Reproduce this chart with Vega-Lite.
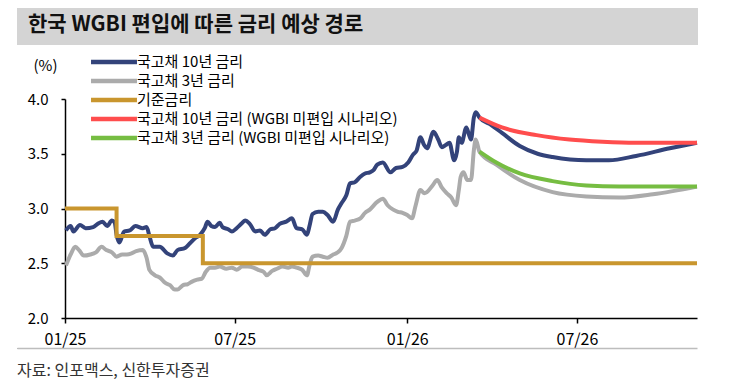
{
  "$schema": "https://vega.github.io/schema/vega-lite/v6.json",
  "background": "white",
  "padding": {"left": 17, "top": 8, "right": 0, "bottom": 20},
  "config": {
    "font": "Noto Sans CJK KR",
    "view": {"stroke": null},
    "legend": {
      "orient": "none", "legendX": 89, "legendY": -45, "title": null,
      "symbolType": "M-4,0L4,0", "symbolStrokeWidth": 4.5, "symbolSize": 132,
      "labelFontSize": 15, "labelFont": "Noto Sans CJK KR", "labelColor": "#000",
      "labelOffset": 15, "rowPadding": 1, "labelLimit": 500, "padding": 0
    }
  },
  "datasets": {
    "y10": [
      {"d":"2025-01-02","v":2.80},{"d":"2025-01-07","v":2.84},{"d":"2025-01-10","v":2.79},{"d":"2025-01-17","v":2.85},
      {"d":"2025-01-23","v":2.82},{"d":"2025-01-31","v":2.83},{"d":"2025-02-05","v":2.86},{"d":"2025-02-10","v":2.88},
      {"d":"2025-02-15","v":2.84},{"d":"2025-02-20","v":2.89},{"d":"2025-02-23","v":2.87},{"d":"2025-02-25","v":2.76},
      {"d":"2025-02-28","v":2.69},{"d":"2025-03-05","v":2.79},{"d":"2025-03-11","v":2.80},{"d":"2025-03-17","v":2.84},
      {"d":"2025-03-25","v":2.82},{"d":"2025-03-29","v":2.83},{"d":"2025-04-01","v":2.75},{"d":"2025-04-05","v":2.65},
      {"d":"2025-04-12","v":2.65},{"d":"2025-04-20","v":2.59},{"d":"2025-04-26","v":2.57},{"d":"2025-05-01","v":2.62},
      {"d":"2025-05-09","v":2.64},{"d":"2025-05-14","v":2.68},{"d":"2025-05-20","v":2.73},{"d":"2025-05-25","v":2.76},
      {"d":"2025-05-30","v":2.82},{"d":"2025-06-02","v":2.88},{"d":"2025-06-06","v":2.84},{"d":"2025-06-10","v":2.83},
      {"d":"2025-06-15","v":2.87},{"d":"2025-06-18","v":2.83},{"d":"2025-06-24","v":2.81},{"d":"2025-06-28","v":2.79},
      {"d":"2025-07-03","v":2.82},{"d":"2025-07-08","v":2.86},{"d":"2025-07-12","v":2.89},{"d":"2025-07-17","v":2.86},
      {"d":"2025-07-23","v":2.79},{"d":"2025-07-28","v":2.80},{"d":"2025-08-02","v":2.76},{"d":"2025-08-08","v":2.81},
      {"d":"2025-08-13","v":2.82},{"d":"2025-08-18","v":2.86},{"d":"2025-08-25","v":2.88},{"d":"2025-08-31","v":2.91},
      {"d":"2025-09-05","v":2.82},{"d":"2025-09-11","v":2.81},{"d":"2025-09-16","v":2.76},{"d":"2025-09-19","v":2.85},
      {"d":"2025-09-22","v":2.95},{"d":"2025-09-28","v":2.97},{"d":"2025-10-03","v":2.97},{"d":"2025-10-08","v":2.94},
      {"d":"2025-10-14","v":2.88},{"d":"2025-10-19","v":2.99},{"d":"2025-10-23","v":3.05},{"d":"2025-10-28","v":3.12},
      {"d":"2025-11-01","v":3.23},{"d":"2025-11-06","v":3.24},{"d":"2025-11-12","v":3.29},{"d":"2025-11-17","v":3.32},
      {"d":"2025-11-22","v":3.33},{"d":"2025-11-26","v":3.35},{"d":"2025-11-30","v":3.40},{"d":"2025-12-06","v":3.42},
      {"d":"2025-12-14","v":3.33},{"d":"2025-12-20","v":3.37},{"d":"2025-12-27","v":3.38},{"d":"2026-01-02","v":3.42},
      {"d":"2026-01-07","v":3.49},{"d":"2026-01-11","v":3.53},{"d":"2026-01-15","v":3.65},{"d":"2026-01-19","v":3.58},
      {"d":"2026-01-22","v":3.55},{"d":"2026-01-29","v":3.70},{"d":"2026-02-03","v":3.63},{"d":"2026-02-07","v":3.56},
      {"d":"2026-02-11","v":3.58},{"d":"2026-02-15","v":3.60},{"d":"2026-02-20","v":3.44},{"d":"2026-02-23","v":3.52},
      {"d":"2026-02-25","v":3.65},{"d":"2026-02-28","v":3.60},{"d":"2026-03-05","v":3.74},{"d":"2026-03-08","v":3.67},
      {"d":"2026-03-10","v":3.63},{"d":"2026-03-13","v":3.83},{"d":"2026-03-15","v":3.88},{"d":"2026-03-19","v":3.83},
      {"d":"2026-04-01","v":3.76},{"d":"2026-04-12","v":3.69},{"d":"2026-05-01","v":3.57},{"d":"2026-05-20","v":3.50},
      {"d":"2026-06-05","v":3.47},{"d":"2026-07-11","v":3.44},{"d":"2026-08-04","v":3.44},{"d":"2026-09-02","v":3.48},
      {"d":"2026-10-08","v":3.55},{"d":"2026-11-06","v":3.60}
    ],
    "y3": [
      {"d":"2025-01-02","v":2.48},{"d":"2025-01-07","v":2.58},{"d":"2025-01-12","v":2.65},{"d":"2025-01-16","v":2.62},
      {"d":"2025-01-21","v":2.57},{"d":"2025-01-28","v":2.58},{"d":"2025-02-03","v":2.60},{"d":"2025-02-09","v":2.65},
      {"d":"2025-02-14","v":2.62},{"d":"2025-02-20","v":2.60},{"d":"2025-02-25","v":2.56},{"d":"2025-03-03","v":2.58},
      {"d":"2025-03-08","v":2.58},{"d":"2025-03-13","v":2.59},{"d":"2025-03-18","v":2.61},{"d":"2025-03-25","v":2.62},
      {"d":"2025-03-29","v":2.55},{"d":"2025-04-01","v":2.44},{"d":"2025-04-07","v":2.39},{"d":"2025-04-12","v":2.37},
      {"d":"2025-04-18","v":2.32},{"d":"2025-04-23","v":2.30},{"d":"2025-04-28","v":2.26},{"d":"2025-05-01","v":2.26},
      {"d":"2025-05-07","v":2.30},{"d":"2025-05-12","v":2.31},{"d":"2025-05-16","v":2.33},{"d":"2025-05-22","v":2.35},
      {"d":"2025-05-27","v":2.36},{"d":"2025-05-31","v":2.42},{"d":"2025-06-05","v":2.46},{"d":"2025-06-10","v":2.46},
      {"d":"2025-06-15","v":2.47},{"d":"2025-06-22","v":2.45},{"d":"2025-06-28","v":2.46},{"d":"2025-07-03","v":2.44},
      {"d":"2025-07-09","v":2.47},{"d":"2025-07-15","v":2.47},{"d":"2025-07-21","v":2.46},{"d":"2025-07-26","v":2.44},
      {"d":"2025-08-01","v":2.42},{"d":"2025-08-04","v":2.39},{"d":"2025-08-10","v":2.43},{"d":"2025-08-15","v":2.45},
      {"d":"2025-08-21","v":2.47},{"d":"2025-08-27","v":2.46},{"d":"2025-08-31","v":2.47},{"d":"2025-09-05","v":2.46},
      {"d":"2025-09-11","v":2.44},{"d":"2025-09-16","v":2.39},{"d":"2025-09-19","v":2.49},{"d":"2025-09-22","v":2.56},
      {"d":"2025-09-28","v":2.57},{"d":"2025-10-03","v":2.56},{"d":"2025-10-08","v":2.55},{"d":"2025-10-14","v":2.58},
      {"d":"2025-10-19","v":2.60},{"d":"2025-10-23","v":2.64},{"d":"2025-10-28","v":2.75},{"d":"2025-11-01","v":2.88},
      {"d":"2025-11-06","v":2.89},{"d":"2025-11-12","v":2.91},{"d":"2025-11-17","v":2.96},{"d":"2025-11-22","v":2.99},
      {"d":"2025-11-30","v":3.06},{"d":"2025-12-06","v":3.09},{"d":"2025-12-11","v":3.03},{"d":"2025-12-17","v":2.99},
      {"d":"2025-12-22","v":2.97},{"d":"2025-12-27","v":2.96},{"d":"2026-01-01","v":2.94},{"d":"2026-01-06","v":2.91},
      {"d":"2026-01-10","v":3.03},{"d":"2026-01-15","v":3.17},{"d":"2026-01-19","v":3.14},{"d":"2026-01-22","v":3.15},
      {"d":"2026-01-28","v":3.21},{"d":"2026-02-02","v":3.26},{"d":"2026-02-07","v":3.19},{"d":"2026-02-12","v":3.14},
      {"d":"2026-02-17","v":3.10},{"d":"2026-02-22","v":3.03},{"d":"2026-02-25","v":3.17},{"d":"2026-02-27","v":3.29},
      {"d":"2026-03-02","v":3.33},{"d":"2026-03-06","v":3.26},{"d":"2026-03-10","v":3.26},{"d":"2026-03-13","v":3.53},
      {"d":"2026-03-15","v":3.63},{"d":"2026-03-19","v":3.52},{"d":"2026-04-06","v":3.40},{"d":"2026-05-01","v":3.26},
      {"d":"2026-06-05","v":3.15},{"d":"2026-07-11","v":3.11},{"d":"2026-08-15","v":3.10},{"d":"2026-09-20","v":3.13},
      {"d":"2026-11-06","v":3.20}
    ],
    "base": [
      {"d":"2025-01-01","v":3.00},{"d":"2025-02-25","v":2.75},{"d":"2025-05-28","v":2.50},{"d":"2026-11-06","v":2.50}
    ],
    "y10n": [
      {"d":"2026-03-19","v":3.83},{"d":"2026-04-12","v":3.74},{"d":"2026-05-19","v":3.67},{"d":"2026-06-23","v":3.63},
      {"d":"2026-07-28","v":3.61},{"d":"2026-09-01","v":3.60},{"d":"2026-11-06","v":3.60}
    ],
    "y3n": [
      {"d":"2026-03-19","v":3.52},{"d":"2026-04-06","v":3.42},{"d":"2026-05-01","v":3.32},{"d":"2026-06-05","v":3.25},
      {"d":"2026-07-11","v":3.21},{"d":"2026-08-15","v":3.20},{"d":"2026-11-06","v":3.20}
    ]
  },
  "columns": 1,
  "spacing": 9,
  "bounds": "full",
  "resolve": {"scale": {"color": "independent"}, "legend": {"color": "independent"}},
  "concat": [
    {
      "width": 681,
      "height": 37,
      "view": {"fill": "#d4d4d4", "stroke": null},
      "title": {
        "text": "한국 WGBI 편입에 따른 금리 예상 경로",
        "orient": "bottom", "anchor": "start", "frame": "group",
        "offset": -20, "dx": 11, "baseline": "middle",
        "fontSize": 21, "fontWeight": "bold", "font": "Noto Sans CJK KR", "color": "#111"
      },
      "data": {"values": [{"t": ""}]},
      "mark": {"type": "text"},
      "encoding": {"text": {"field": "t"}}
    },
    {
      "columns": 1,
      "spacing": 30,
      "bounds": "flush",
      "resolve": {"scale": {"color": "independent", "x": "independent"}, "legend": {"color": "independent"}, "axis": {"x": "independent"}},
      "concat": [
        {
          "width": 680,
          "height": 219,
          "resolve": {"scale": {"x": "independent"}, "axis": {"x": "independent"}},
          "layer": [
            {
              "encoding": {
                "x": {
                  "field": "d", "type": "temporal",
                  "scale": {"type": "utc", "range": [48, 680], "domain": [{"year": 2025, "month": 1, "date": 1, "utc": true}, {"year": 2026, "month": 11, "date": 6, "utc": true}]},
                  "axis": {
                    "title": null, "grid": false,
                    "values": [
                      {"year": 2025, "month": 1, "date": 1, "utc": true},
                      {"year": 2025, "month": 7, "date": 1, "utc": true},
                      {"year": 2026, "month": 1, "date": 1, "utc": true},
                      {"year": 2026, "month": 7, "date": 1, "utc": true}
                    ],
                    "labelExpr": "utcFormat(datum.value, '%m/%y')",
                    "labelFontSize": 16, "labelColor": "#000", "labelPadding": 8, "labelFlush": false,
                    "tickColor": "#000", "tickSize": 5, "tickWidth": 1.5,
                    "domainColor": "#000", "domainWidth": 1.5
                  }
                },
                "y": {
                  "field": "v", "type": "quantitative",
                  "scale": {"domain": [2, 4], "nice": false, "zero": false},
                  "axis": {
                    "offset": -48,
                    "title": "(%)", "titleAngle": 0, "titleX": -20, "titleY": -34,
                    "titleAlign": "center", "titleBaseline": "middle",
                    "titleFontSize": 15, "titleFontWeight": "normal", "titleColor": "#000",
                    "values": [2, 2.5, 3, 3.5, 4], "format": ".1f", "grid": false,
                    "labelFontSize": 15, "labelColor": "#000", "labelPadding": 13,
                    "tickColor": "#000", "tickSize": 4, "tickWidth": 1.5,
                    "domainColor": "#000", "domainWidth": 1.5
                  }
                }
              },
              "layer": [
                {
                  "data": {"name": "y10"},
                  "mark": {"type": "line", "strokeWidth": 4, "interpolate": "monotone"},
                  "encoding": {
                    "color": {
                      "datum": "국고채 10년 금리",
                      "scale": {
                        "domain": ["국고채 10년 금리", "국고채 3년 금리", "기준금리", "국고채 10년 금리 (WGBI 미편입 시나리오)", "국고채 3년 금리 (WGBI 미편입 시나리오)"],
                        "range": ["#33437a", "#ababab", "#c9962e", "#ff4d4d", "#76bd42"]
                      }
                    }
                  }
                },
                {
                  "data": {"name": "y3"},
                  "mark": {"type": "line", "strokeWidth": 4, "interpolate": "monotone"},
                  "encoding": {"color": {"datum": "국고채 3년 금리"}}
                },
                {
                  "data": {"name": "base"},
                  "mark": {"type": "line", "strokeWidth": 4, "interpolate": "step-after"},
                  "encoding": {"color": {"datum": "기준금리"}}
                },
                {
                  "data": {"name": "y10n"},
                  "mark": {"type": "line", "strokeWidth": 4, "interpolate": "monotone"},
                  "encoding": {"color": {"datum": "국고채 10년 금리 (WGBI 미편입 시나리오)"}}
                },
                {
                  "data": {"name": "y3n"},
                  "mark": {"type": "line", "strokeWidth": 4, "interpolate": "monotone"},
                  "encoding": {"color": {"datum": "국고채 3년 금리 (WGBI 미편입 시나리오)"}}
                }
              ]
            },
            {
              "data": {"name": "base"},
              "mark": {"type": "line", "strokeOpacity": 0},
              "encoding": {
                "x": {
                  "field": "d", "type": "temporal",
                  "scale": {"type": "utc"},
                  "axis": {"orient": "bottom", "offset": 30, "labels": false, "ticks": false, "title": null, "grid": false, "domainColor": "#bdbdbd", "domainWidth": 1.5}
                },
                "y": {"field": "v", "type": "quantitative"}
              }
            }
          ]
        },
        {
          "width": 680,
          "height": 1,
          "view": {"fill": "#bdbdbd", "stroke": null},
          "title": {
            "text": "자료: 인포맥스, 신한투자증권",
            "orient": "bottom", "anchor": "start", "frame": "group",
            "offset": 9, "baseline": "top",
            "fontSize": 16, "fontWeight": "normal", "font": "Noto Sans CJK KR", "color": "#333"
          },
          "data": {"values": [{"t": ""}]},
          "mark": {"type": "text"},
          "encoding": {"text": {"field": "t"}}
        }
      ]
    }
  ]
}
